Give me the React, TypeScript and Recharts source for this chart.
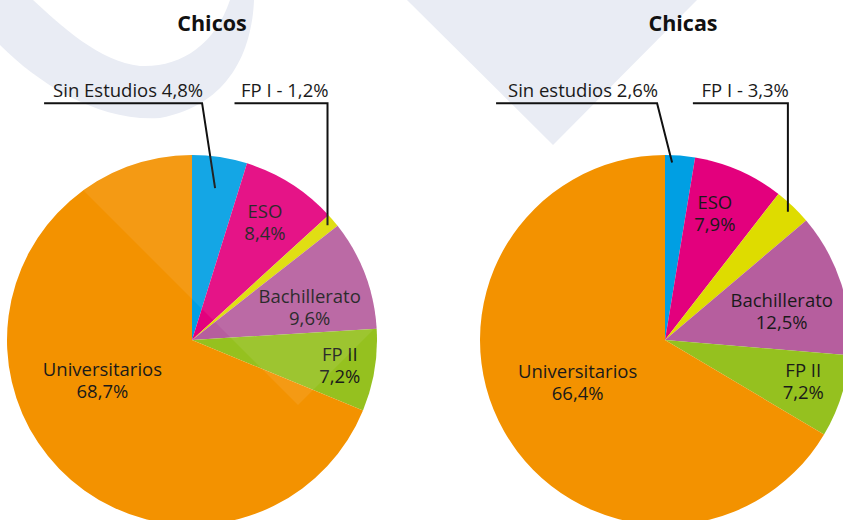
import React from 'react';
import { PieChart, Pie, Cell } from 'recharts';

const categories = ['Sin estudios', 'ESO', 'FP I', 'Bachillerato', 'FP II', 'Universitarios'];
const chicosValues = [4.8, 8.4, 1.2, 9.6, 7.2, 68.7];
const chicasValues = [2.6, 7.9, 3.3, 12.5, 7.2, 66.4];
const chicosLabels = ['Sin Estudios 4,8%', 'ESO|8,4%', 'FP I - 1,2%', 'Bachillerato|9,6%', 'FP II|7,2%', 'Universitarios|68,7%'];
const chicasLabels = ['Sin estudios 2,6%', 'ESO|7,9%', 'FP I - 3,3%', 'Bachillerato|12,5%', 'FP II|7,2%', 'Universitarios|66,4%'];
const titles = ['Chicos', 'Chicas'];

const COLORS = ['#009fe3', '#e3007d', '#dedc00', '#b65e9e', '#95c11f', '#f39200'];
const FONT = '"Open Sans", sans-serif';
const LABEL_SIZE = 18.5;

// label styling per category index (math-convention angle shift in degrees)
const styleChicos: any = {
  0: { callout: true, rf: 0.83, da: 0, kneeDx: -13, lineW: 158 },
  1: { rf: 0.75, da: 0.7 },
  2: { callout: true, rf: 0.96, da: 0, kneeDx: 0, lineW: 93 },
  3: { rf: 0.66, da: -5.3 },
  4: { rf: 0.81, da: 0 },
  5: { rf: 0.53, da: -9.8 },
};
const styleChicas: any = {
  0: { callout: true, rf: 0.96, da: 2.4, kneeDx: -15, lineW: 161 },
  1: { rf: 0.735, da: 2.1 },
  2: { callout: true, rf: 0.96, da: 0, kneeDx: 0, lineW: 95 },
  3: { rf: 0.65, da: -3.8 },
  4: { rf: 0.78, da: 1.1 },
  5: { rf: 0.525, da: -3.7 },
};

const build = (values: number[], labels: string[]) =>
  categories.map((c, i) => ({ name: c, value: values[i], label: labels[i], idx: i }));

const chicosData = build(chicosValues, chicosLabels);
const chicasData = build(chicasValues, chicasLabels);

const RAD = Math.PI / 180;

const makeLabel = (styles: any) => (props: any) => {
  const { cx, cy, midAngle, outerRadius, payload } = props;
  const idx = payload.idx;
  const st = styles[idx];
  if (st.callout) {
    const r = outerRadius * st.rf;
    const a = midAngle + st.da;
    const ex = cx + r * Math.cos(-a * RAD);
    const ey = cy + r * Math.sin(-a * RAD);
    const kx = ex + st.kneeDx;
    const ky = cy - outerRadius * 1.28;
    return (
      <g key={`c-${idx}`}>
        <polyline
          points={`${kx - st.lineW},${ky} ${kx},${ky} ${ex},${ey}`}
          fill="none"
          stroke="#111"
          strokeWidth={2}
        />
        <text x={kx + 1} y={ky - 6} textAnchor="end" fontFamily={FONT} fontSize={LABEL_SIZE} fill="#1a1a1a">
          {payload.label}
        </text>
      </g>
    );
  }
  const a = midAngle + st.da;
  const r = outerRadius * st.rf;
  const x = cx + r * Math.cos(-a * RAD);
  const y = cy + r * Math.sin(-a * RAD);
  const [l1, l2] = payload.label.split('|');
  return (
    <g key={`l-${idx}`}>
      <text x={x} y={y - 4} textAnchor="middle" fontFamily={FONT} fontSize={LABEL_SIZE} fill="#1a1a1a">
        {l1}
      </text>
      <text x={x} y={y + 18} textAnchor="middle" fontFamily={FONT} fontSize={LABEL_SIZE} fill="#1a1a1a">
        {l2}
      </text>
    </g>
  );
};

export default function App() {
  return (
    <div style={{ position: 'absolute', left: 0, top: 0, width: 843, height: 520, background: '#fff', overflow: 'hidden' }}>
      <svg width={843} height={520} style={{ position: 'absolute', left: 0, top: 0 }}>
        <path
          d="M 0 -10 L 33 0 C 60 25 100 62 140 66 C 180 68 215 45 230 0 L 254 0 C 252 50 230 105 160 118 C 100 122 40 85 0 45 Z"
          fill="#e9ecf4"
        />
        <polygon points="407,0 553,145 697,0" fill="#e9ecf4" />
      </svg>
      <div style={{ position: 'absolute', left: 0, top: 0 }}>
        <PieChart width={843} height={520} margin={{ top: 0, right: 0, bottom: 0, left: 0 }}>
          <text x={212} y={31} textAnchor="middle" fontFamily={FONT} fontWeight={700} fontSize={21.5} fill="#111">
            {titles[0]}
          </text>
          <text x={683} y={31} textAnchor="middle" fontFamily={FONT} fontWeight={700} fontSize={21.5} fill="#111">
            {titles[1]}
          </text>
          <Pie
            data={chicosData}
            dataKey="value"
            cx={192}
            cy={340}
            outerRadius={185}
            startAngle={90}
            endAngle={-270}
            stroke="none"
            isAnimationActive={false}
            labelLine={false}
            label={makeLabel(styleChicos)}
          >
            {chicosData.map((d, i) => (
              <Cell key={i} fill={COLORS[i]} />
            ))}
          </Pie>
          <Pie
            data={chicasData}
            dataKey="value"
            cx={665}
            cy={340}
            outerRadius={185}
            startAngle={90}
            endAngle={-270}
            stroke="none"
            isAnimationActive={false}
            labelLine={false}
            label={makeLabel(styleChicas)}
          >
            {chicasData.map((d, i) => (
              <Cell key={i} fill={COLORS[i]} />
            ))}
          </Pie>
        </PieChart>
      </div>
      <svg width={843} height={520} style={{ position: 'absolute', left: 0, top: 0, pointerEvents: 'none' }}>
        <defs>
          <clipPath id="pie1clip">
            <circle cx={192} cy={340} r={185} />
          </clipPath>
        </defs>
        <polygon points="298,405 -200,-93 796,-93" fill="#ffffff" opacity={0.08} clipPath="url(#pie1clip)" />
      </svg>
    </div>
  );
}
